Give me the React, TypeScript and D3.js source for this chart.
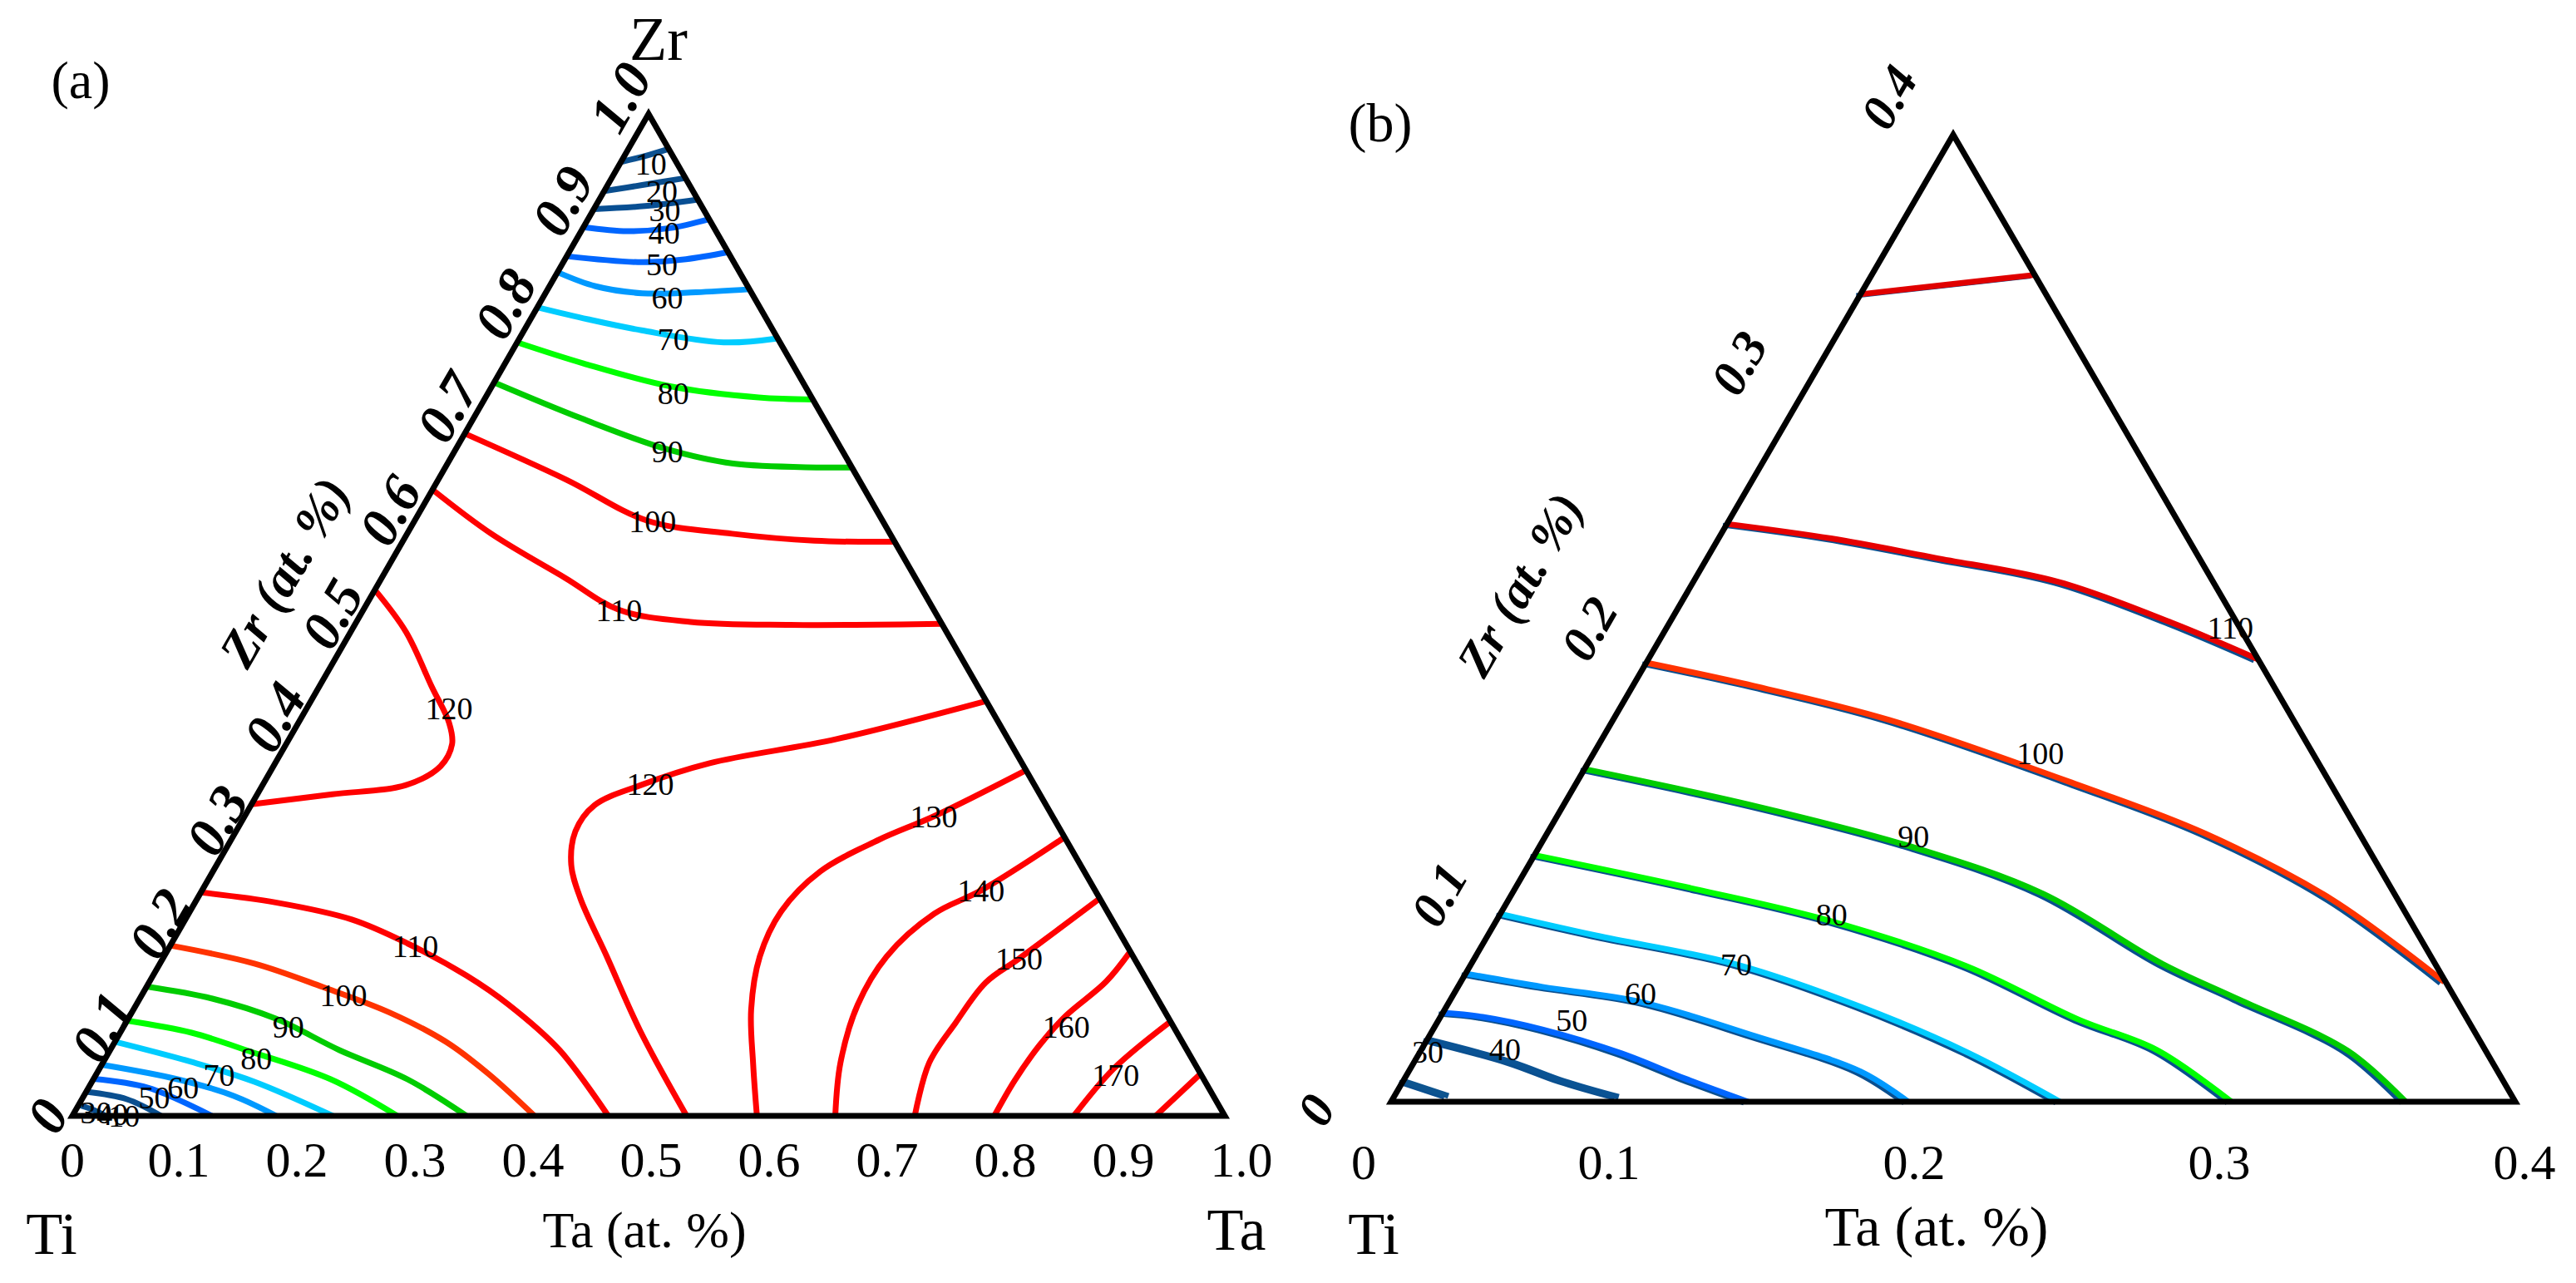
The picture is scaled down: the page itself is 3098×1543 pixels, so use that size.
import React, { useEffect } from 'react';
import * as d3 from 'd3';

type TP = [number, number]; // [Ta, Zr] atomic fraction

const FONT = "'Liberation Serif', 'Times New Roman', Times, serif";

// ---------- panel (a): contour paths, full composition range ----------
const aTop10: TP[] = [[0, 0.952], [0.018, 0.958], [0.035, 0.965]];
const aTop20: TP[] = [[0, 0.923], [0.03, 0.929], [0.064, 0.936]];
const aTop30: TP[] = [[0, 0.905], [0.043, 0.908], [0.0855, 0.9145]];
const aTop40: TP[] = [[0, 0.887], [0.04, 0.883], [0.075, 0.886], [0.105, 0.895]];
const aTop50: TP[] = [[0, 0.858], [0.068, 0.852], [0.105, 0.855], [0.138, 0.862]];
const aTop60: TP[] = [[0, 0.842], [0.04, 0.828], [0.084, 0.821], [0.13, 0.822], [0.175, 0.825]];
const aTop70: TP[] = [[0, 0.807], [0.05, 0.795], [0.102, 0.784], [0.179, 0.772], [0.224, 0.776]];
const aTop80: TP[] = [[0, 0.772], [0.068, 0.751], [0.1555, 0.728], [0.237, 0.717], [0.285, 0.715]];
const aTop90: TP[] = [[0, 0.732], [0.094, 0.696], [0.181, 0.666], [0.248, 0.651], [0.353, 0.647]];
const aTop100: TP[] = [[0, 0.681], [0.111, 0.635], [0.202, 0.594], [0.282, 0.581], [0.357, 0.574], [0.427, 0.573]];
const aTop110: TP[] = [[0, 0.625], [0.073, 0.581], [0.159, 0.537], [0.222, 0.505], [0.29, 0.493], [0.378, 0.49], [0.509, 0.491]];
const aPocket120: TP[] = [[0, 0.525], [0.048, 0.483], [0.098, 0.428], [0.131, 0.392], [0.144, 0.371], [0.145, 0.349], [0.124, 0.33], [0.065, 0.321], [0, 0.311]];
const aCentre120: TP[] = [[0.586, 0.414], [0.475, 0.376], [0.377, 0.352], [0.328, 0.33], [0.298, 0.31], [0.2945, 0.284], [0.3076, 0.2506], [0.332, 0.2174], [0.384, 0.1593], [0.4505, 0.0846], [0.533, 0]];
const a130: TP[] = [[0.655, 0.345], [0.598, 0.299], [0.562, 0.2755], [0.527, 0.244], [0.513, 0.204], [0.517, 0.159], [0.536, 0.106], [0.565, 0.0515], [0.594, 0]];
const a140: TP[] = [[0.722, 0.278], [0.676, 0.225], [0.647, 0.2017], [0.627, 0.159], [0.626, 0.111], [0.64, 0.053], [0.662, 0]];
const a150: TP[] = [[0.783, 0.217], [0.743, 0.157], [0.726, 0.133], [0.72, 0.093], [0.717, 0.053], [0.731, 0]];
const a160: TP[] = [[0.836, 0.164], [0.83, 0.134], [0.812, 0.0996], [0.804, 0.0705], [0.8, 0.035], [0.8, 0]];
const a170: TP[] = [[0.905, 0.093], [0.88, 0.047], [0.869, 0]];
const a180: TP[] = [[0.958, 0.042], [0.94, 0]];
const aLow110: TP[] = [[0, 0.223], [0.07, 0.213], [0.1445, 0.196], [0.205, 0.172], [0.272, 0.14], [0.323, 0.111], [0.39, 0.0656], [0.465, 0]];
const aLow100: TP[] = [[0, 0.17], [0.082, 0.152], [0.153, 0.1286], [0.224, 0.103], [0.287, 0.074], [0.34, 0.042], [0.401, 0]];
const aLow90: TP[] = [[0, 0.129], [0.063, 0.117], [0.128, 0.097], [0.199, 0.0656], [0.2725, 0.0365], [0.342, 0]];
const aLow80: TP[] = [[0, 0.095], [0.062, 0.083], [0.118, 0.0656], [0.206, 0.0365], [0.282, 0]];
const aLow70: TP[] = [[0, 0.074], [0.076, 0.054], [0.141, 0.034], [0.226, 0]];
const aLow60: TP[] = [[0, 0.051], [0.073, 0.0365], [0.13, 0.02], [0.177, 0]];
const aLow50: TP[] = [[0, 0.037], [0.052, 0.028], [0.121, 0]];
const aLow40: TP[] = [[0, 0.024], [0.039, 0.0166], [0.077, 0]];
const aLow30: TP[] = [[0, 0.011], [0.015, 0.006], [0.029, 0]];

const contoursA = [
  { id: 'aTop10', level: 10, pts: aTop10, at: [0.027, 0.95] },
  { id: 'aTop20', level: 20, pts: aTop20, at: [0.05, 0.923] },
  { id: 'aTop30', level: 30, pts: aTop30, at: [0.062, 0.904] },
  { id: 'aTop40', level: 40, pts: aTop40, at: [0.073, 0.881] },
  { id: 'aTop50', level: 50, pts: aTop50, at: [0.0865, 0.85] },
  { id: 'aTop60', level: 60, pts: aTop60, at: [0.108, 0.8166] },
  { id: 'aTop70', level: 70, pts: aTop70, at: [0.134, 0.775] },
  { id: 'aTop80', level: 80, pts: aTop80, at: [0.161, 0.721] },
  { id: 'aTop90', level: 90, pts: aTop90, at: [0.185, 0.663] },
  { id: 'aTop100', level: 100, pts: aTop100, at: [0.207, 0.593] },
  { id: 'aTop110', level: 110, pts: aTop110, at: [0.222, 0.5046] },
  { id: 'aPocket120', level: 120, pts: aPocket120, at: [0.1235, 0.4066] },
  { id: 'aCentre120', level: 120, pts: aCentre120, at: [0.336, 0.331] },
  { id: 'a130', level: 130, pts: a130, at: [0.598, 0.2988] },
  { id: 'a140', level: 140, pts: a140, at: [0.676, 0.225] },
  { id: 'a150', level: 150, pts: a150, at: [0.743, 0.157] },
  { id: 'a160', level: 160, pts: a160, at: [0.818, 0.0888] },
  { id: 'a170', level: 170, pts: a170, at: [0.885, 0.0407] },
  { id: 'a180', level: 180, pts: a180, at: null },
  { id: 'aLow110', level: 110, pts: aLow110, at: [0.213, 0.1693] },
  { id: 'aLow100', level: 100, pts: aLow100, at: [0.175, 0.1203] },
  { id: 'aLow90', level: 90, pts: aLow90, at: [0.143, 0.0888] },
  { id: 'aLow80', level: 80, pts: aLow80, at: [0.131, 0.0573] },
  { id: 'aLow70', level: 70, pts: aLow70, at: [0.107, 0.0407] },
  { id: 'aLow60', level: 60, pts: aLow60, at: [0.082, 0.0282] },
  { id: 'aLow50', level: 50, pts: aLow50, at: [0.062, 0.0183] },
  { id: 'aLow40', level: 40, pts: aLow40, at: [0.034, 0.0017] },
  { id: 'aLow30', level: 30, pts: aLow30, at: [0.019, 0.0033] },
];
// a stray "10" label sits in the Ti corner
const strayLabelsA = [{ text: '10', at: [0.045, 0] as TP }];

const coloursA: Record<string, string> = {
  aTop10: '#0c5191', aTop20: '#0a4e8e', aTop30: '#084f93', aTop40: '#0066ff', aTop50: '#0066ff',
  aTop60: '#0099ff', aTop70: '#00ccff', aTop80: '#00ff00', aTop90: '#00cc00', aTop100: '#ff0000',
  aTop110: '#ff0000', aPocket120: '#ff0000', aCentre120: '#ff0000', a130: '#ff0000', a140: '#ff0000',
  a150: '#ff0000', a160: '#ff0000', a170: '#ff0000', a180: '#ff0000', aLow110: '#ff0000',
  aLow100: '#ff3300', aLow90: '#00cc00', aLow80: '#00ff00', aLow70: '#00ccff', aLow60: '#0099ff',
  aLow50: '#0066ff', aLow40: '#0a4f8f', aLow30: '#0a4f8f',
};

// ---------- panel (b): Ti-rich corner, 0..0.4 ----------
const b30: TP[] = [[0, 0.0086], [0.0192, 0.0024]];
const b40: TP[] = [[0, 0.0258], [0.0344, 0.0165], [0.057, 0.0086], [0.08, 0.002]];
const b50: TP[] = [[0, 0.0368], [0.015, 0.0351], [0.0389, 0.0299], [0.072, 0.02], [0.1, 0.0095], [0.127, 0]];
const b60: TP[] = [[0, 0.053], [0.0301, 0.0475], [0.068, 0.0413], [0.1157, 0.0272], [0.161, 0.0124], [0.184, 0]];
const b70: TP[] = [[0, 0.0777], [0.0384, 0.0688], [0.0944, 0.0568], [0.1476, 0.0392], [0.1944, 0.0206], [0.238, 0]];
const b80: TP[] = [[0, 0.102], [0.0667, 0.0874], [0.1195, 0.0746], [0.1767, 0.0561], [0.2276, 0.034], [0.262, 0.0213], [0.299, 0]];
const b90: TP[] = [[0, 0.1376], [0.068, 0.1224], [0.134, 0.105], [0.189, 0.086], [0.246, 0.057], [0.28, 0.0425], [0.33, 0.021], [0.361, 0]];
const b100: TP[] = [[0, 0.1816], [0.043, 0.172], [0.098, 0.158], [0.179, 0.131], [0.234, 0.111], [0.293, 0.0836], [0.35, 0.0495]];
const b110: TP[] = [[0, 0.239], [0.04, 0.233], [0.081, 0.225], [0.13, 0.215], [0.179, 0.198], [0.217, 0.183]];
const b110top: TP[] = [[0, 0.334], [0.029, 0.338], [0.058, 0.342]];

const contoursB = [
  { id: 'b30', level: 30, pts: b30, at: [0.0027, 0.0206] },
  { id: 'b40', level: 40, pts: b40, at: [0.0297, 0.0217] },
  { id: 'b50', level: 50, pts: b50, at: [0.0474, 0.0337] },
  { id: 'b60', level: 60, pts: b60, at: [0.0664, 0.0447] },
  { id: 'b70', level: 70, pts: b70, at: [0.0944, 0.0568] },
  { id: 'b80', level: 80, pts: b80, at: [0.118, 0.0774] },
  { id: 'b90', level: 90, pts: b90, at: [0.131, 0.1097] },
  { id: 'b100', level: 100, pts: b100, at: [0.159, 0.144] },
  { id: 'b110', level: 110, pts: b110, at: [0.2006, 0.196] },
  { id: 'b110top', level: 110, pts: b110top, at: null },
];

const coloursB: Record<string, string> = {
  b30: '#0d548f', b40: '#0a5394', b50: '#0066ff', b60: '#0099ff', b70: '#00ccff',
  b80: '#00ff00', b90: '#00cc00', b100: '#ff3300', b110: '#e60000', b110top: '#e00000',
};
const SHADOW_B = '#0a4f8f';

// ---------- axes ----------
const TICKS_A = [0, 0.1, 0.2, 0.3, 0.4, 0.5, 0.6, 0.7, 0.8, 0.9, 1.0];
const TICKS_B = [0, 0.1, 0.2, 0.3, 0.4];
const fmt = (v: number) => (v === 0 ? '0' : v.toFixed(1));

// ternary -> screen, with d3 linear scales; Ti at bottom-left, Ta bottom-right, Zr on top
function makeTernary(x0: number, y0: number, w: number, h: number, span: number) {
  const sx = d3.scaleLinear().domain([0, span]).range([x0, x0 + w]);
  const sy = d3.scaleLinear().domain([0, span]).range([y0, y0 - h]);
  return (p: TP | number[]): [number, number] => [sx(p[0] + p[1] / 2), sy(p[1])];
}

export default function App() {
  useEffect(() => {
    document.body.style.margin = '0';
  }, []);

  const triA = makeTernary(87, 1342, 1386, 1205, 1);
  const triB = makeTernary(1673, 1325, 1352, 1163, 0.4);

  const lineFor = (tri: (p: TP) => [number, number]) =>
    d3.line<TP>()
      .x(p => tri(p)[0])
      .y(p => tri(p)[1])
      .curve(d3.curveCatmullRom.alpha(0.5));
  const lineA = lineFor(triA);
  const lineB = lineFor(triB);

  const outline = (tri: (p: TP) => [number, number], s: number) =>
    ([[0, 0], [s, 0], [0, s]] as TP[]).map(p => tri(p).join(',')).join(' ');

  // tick label placement
  const botA = d3.scaleLinear().domain([0.1, 1]).range([215, 1493]);
  const botB = d3.scaleLinear().domain([0.1, 0.4]).range([1935, 3036]);
  const leftAy = d3.scaleLinear().domain([0.1, 1]).range([1235, 117]);
  const leftBx = d3.scaleLinear().domain([0.1, 0.4]).range([1731, 2272]);
  const leftBy = d3.scaleLinear().domain([0.1, 0.4]).range([1076, 117]);

  const labelText = (x: number, y: number, t: string, size = 38, key?: string) => (
    <text key={key} x={x} y={y} fontSize={size} textAnchor="middle" dominantBaseline="central" fill="#000">
      {t}
    </text>
  );

  return (
    <svg
      width={3098}
      height={1543}
      viewBox="0 0 3098 1543"
      style={{ position: 'absolute', left: 0, top: 0, background: '#fff' }}
      fontFamily={FONT}
    >
      <rect x={0} y={0} width={3098} height={1543} fill="#fff" />

      {/* ===== panel (a) ===== */}
      <g>
        {contoursA.map(c => (
          <path key={c.id} d={lineA(c.pts) || ''} fill="none" stroke={coloursA[c.id]} strokeWidth={7} />
        ))}
        {contoursA.filter(c => c.at).map(c => {
          const [x, y] = triA(c.at as TP);
          return labelText(x, y, String(c.level), 38, 'la' + c.id);
        })}
        {strayLabelsA.map((s, i) => {
          const [x, y] = triA(s.at);
          return labelText(x, y, s.text, 38, 'sa' + i);
        })}
        <polygon points={outline(triA, 1)} fill="none" stroke="#000" strokeWidth={7} />

        {TICKS_A.map(v => (
          <text key={'ba' + v} x={v === 0 ? triA([0, 0])[0] : botA(v)} y={1415} fontSize={60} textAnchor="middle">
            {fmt(v)}
          </text>
        ))}
        {TICKS_A.map(v => {
          const x = v === 0 ? triA([0, 0])[0] - 30 : triA([0, v])[0] - 34;
          const y = v === 0 ? triA([0, 0])[1] : leftAy(v);
          return (
            <text key={'lfa' + v} x={x} y={y} fontSize={66} fontWeight="bold" fontStyle="italic"
              textAnchor="middle" dominantBaseline="central" transform={`rotate(-60 ${x} ${y})`}>
              {fmt(v)}
            </text>
          );
        })}
        <text x={342} y={688} fontSize={62} fontWeight="bold" fontStyle="italic" textAnchor="middle"
          dominantBaseline="central" transform="rotate(-60 342 688)">Zr (at. %)</text>
        <text x={792} y={72} fontSize={74} textAnchor="middle">Zr</text>
        <text x={97} y={118} fontSize={64} textAnchor="middle">(a)</text>
        <text x={62} y={1508} fontSize={72} textAnchor="middle">Ti</text>
        <text x={1487} y={1503} fontSize={72} textAnchor="middle">Ta</text>
        <text x={775} y={1500} fontSize={62} textAnchor="middle">Ta (at. %)</text>
      </g>

      {/* ===== panel (b) ===== */}
      <g>
        {contoursB.map(c => (
          <path key={'sh' + c.id} d={lineB(c.pts) || ''} fill="none" stroke={SHADOW_B} strokeWidth={6}
            transform="translate(-5,1.5)" />
        ))}
        {contoursB.map(c => (
          <path key={c.id} d={lineB(c.pts) || ''} fill="none" stroke={coloursB[c.id]} strokeWidth={7} />
        ))}
        {contoursB.filter(c => c.at).map(c => {
          const [x, y] = triB(c.at as TP);
          return labelText(x, y, String(c.level), 38, 'lb' + c.id);
        })}
        <polygon points={outline(triB, 0.4)} fill="none" stroke="#000" strokeWidth={7} />

        {TICKS_B.map(v => (
          <text key={'bb' + v} x={v === 0 ? 1640 : botB(v)} y={1418} fontSize={60} textAnchor="middle">
            {fmt(v)}
          </text>
        ))}
        {TICKS_B.map(v => {
          const x = v === 0 ? 1583 : leftBx(v);
          const y = v === 0 ? 1335 : leftBy(v);
          return (
            <text key={'lfb' + v} x={x} y={y} fontSize={60} fontWeight="bold" fontStyle="italic"
              textAnchor="middle" dominantBaseline="central" transform={`rotate(-60 ${x} ${y})`}>
              {fmt(v)}
            </text>
          );
        })}
        <text x={1828} y={703} fontSize={60} fontWeight="bold" fontStyle="italic" textAnchor="middle"
          dominantBaseline="central" transform="rotate(-60 1828 703)">Zr (at. %)</text>
        <text x={1660} y={170} fontSize={66} textAnchor="middle">(b)</text>
        <text x={1652} y={1508} fontSize={72} textAnchor="middle">Ti</text>
        <text x={2329} y={1498} fontSize={68} textAnchor="middle">Ta (at. %)</text>
      </g>
    </svg>
  );
}
